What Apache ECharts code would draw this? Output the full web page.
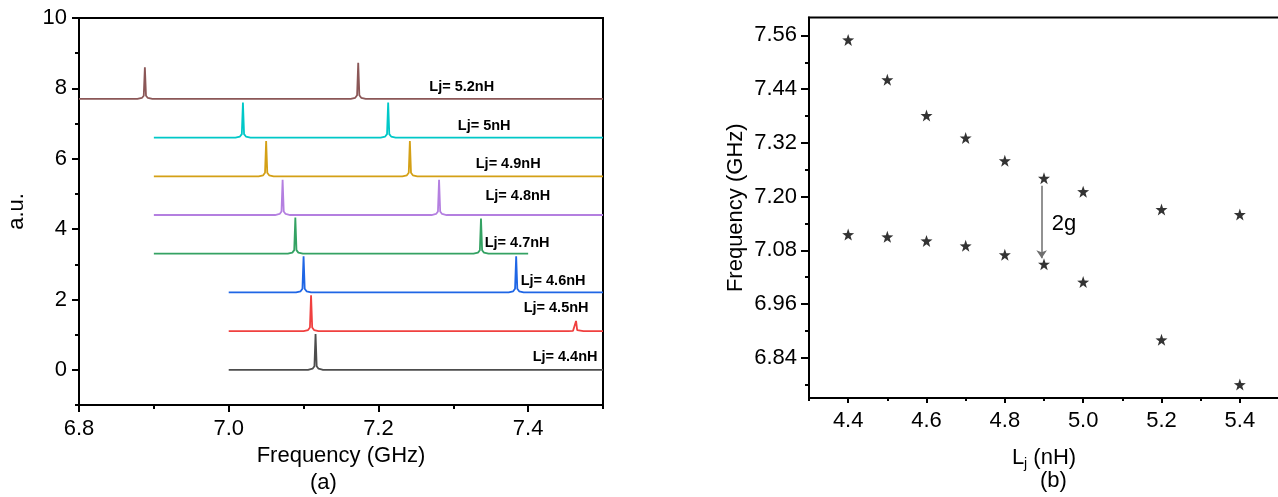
<!DOCTYPE html>
<html>
<head>
<meta charset="utf-8">
<title>Resonator spectra and anticrossing vs Lj</title>
<script src="https://cdn.jsdelivr.net/npm/echarts@6/dist/echarts.min.js"></script>
<style>
  html, body { margin: 0; padding: 0; background: #fff; }
  #chart { width: 1278px; height: 497px; }
</style>
</head>
<body>
<div id="chart"></div>
<script>
// ---- (a) transmission spectra, one trace per junction inductance ----
const traceNames   = ['Lj= 4.4nH', 'Lj= 4.5nH', 'Lj= 4.6nH', 'Lj= 4.7nH', 'Lj= 4.8nH', 'Lj= 4.9nH', 'Lj= 5nH', 'Lj= 5.2nH'];
const traceOffsets = [0, 1.1, 2.2, 3.3, 4.4, 5.5, 6.6, 7.7];
const traceStart   = [7.0, 7.0, 7.0, 6.9, 6.9, 6.9, 6.9, 6.8];
const traceEnd     = [7.5, 7.5, 7.5, 7.4, 7.5, 7.5, 7.5, 7.5];
const peakFreqs    = [[7.116], [7.110, 7.464], [7.100, 7.384], [7.089, 7.337], [7.072, 7.281], [7.050, 7.242], [7.019, 7.213], [6.888, 7.173]];
const peakHeights  = [[1.02], [1.02, 0.29], [1.03, 1.03], [1.03, 1.0], [1.0, 1.0], [1.0, 1.0], [1.0, 1.0], [0.9, 1.03]];
// sampled resonance line shape: [frequency offset (GHz), fraction of peak height]
const peakProfile  = [[-0.010, 0], [-0.004, 0.03], [-0.0015, 0.1], [0, 1], [0.0015, 0.1], [0.004, 0.03], [0.010, 0]];

const leftXMajor = [6.8, 7.0, 7.2, 7.4];
const leftXMinor = [6.9, 7.1, 7.3, 7.5];
const leftYMajor = [0, 2, 4, 6, 8, 10];
const leftYMinor = [-1, 1, 3, 5, 7, 9];

// ---- (b) mode frequencies vs Lj ----
const ljValues  = [4.4, 4.5, 4.6, 4.7, 4.8, 4.9, 5.0, 5.2, 5.4];
const upperFreq = [7.550, 7.461, 7.381, 7.331, 7.280, 7.241, 7.211, 7.171, 7.160];
const lowerFreq = [7.115, 7.110, 7.101, 7.090, 7.070, 7.049, 7.009, 6.880, 6.780];
const splitting = { lj: 4.894, from: 7.224, to: 7.062, text: '2g', textAt: [4.920, 7.138] };

const rightXMajor = [4.4, 4.6, 4.8, 5.0, 5.2, 5.4];
const rightXMinor = [4.3, 4.5, 4.7, 4.9, 5.1, 5.3];
const rightYMajor = [6.84, 6.96, 7.08, 7.20, 7.32, 7.44, 7.56];
const rightYMinor = [6.78, 6.90, 7.02, 7.14, 7.26, 7.38, 7.50];

// ---- styling ----
const traceColors = ['#4d4d4d', '#f0403f', '#1f66e5', '#34a263', '#b47fe0', '#d4a016', '#00c8c8', '#8b5757'];
const labelAnchors = [[7.406, 0.37], [7.394, 1.75], [7.390, 2.53], [7.342, 3.60], [7.343, 4.95], [7.330, 5.85], [7.306, 6.93], [7.268, 8.05]];
const FONT = '"Liberation Sans", Arial, sans-serif';
const TICK_FONT = 22;
const STAR = 'path://M0,-10 L2.35,-3.24 L9.51,-3.09 L3.8,1.24 L5.88,8.09 L0,4 L-5.88,8.09 L-3.8,1.24 L-9.51,-3.09 L-2.35,-3.24 Z';

function buildTrace(i) {
  const off = traceOffsets[i];
  const pts = [[traceStart[i], off]];
  peakFreqs[i].forEach((f, k) => {
    peakProfile.forEach(([df, frac]) => {
      const x = f + df;
      if (x > traceStart[i] && x < traceEnd[i]) pts.push([x, off + frac * peakHeights[i][k]]);
    });
  });
  pts.push([traceEnd[i], off]);
  return pts;
}

function axis(gridIndex, position, min, max, ticks, tickLen, labelled, extra) {
  return Object.assign({
    type: 'value', gridIndex, position, min, max,
    axisLine: { show: labelled, onZero: false, lineStyle: { color: '#000', width: 2 } },
    axisTick: { show: true, inside: false, length: tickLen, customValues: ticks, lineStyle: { color: '#000', width: 2 } },
    axisLabel: labelled
      ? { show: true, customValues: ticks, color: '#000', fontSize: TICK_FONT, fontFamily: FONT }
      : { show: false },
    splitLine: { show: false },
    minorTick: { show: false },
    silent: true
  }, extra || {});
}

const nameStyle = { color: '#000', fontSize: 22, fontFamily: FONT };
const tickLabel = (ticks, digits, margin) => ({
  show: true, customValues: ticks, formatter: v => v.toFixed(digits),
  color: '#000', fontSize: TICK_FONT, fontFamily: FONT, margin
});

const series = traceNames.map((name, i) => ({
  type: 'line',
  name,
  xAxisIndex: 0, yAxisIndex: 0,
  data: buildTrace(i),
  showSymbol: false,
  symbol: 'none',
  lineStyle: { color: traceColors[i], width: 1.8 },
  z: 3,
  markPoint: {
    symbol: 'circle', symbolSize: 0, silent: true, animation: false,
    data: [{ coord: labelAnchors[i], value: name }],
    label: { show: true, position: 'right', distance: 0, formatter: name, color: '#000', fontSize: 14.5, fontWeight: 'bold', fontFamily: FONT }
  }
}));

const starStyle = { color: '#000' };
series.push({
  type: 'scatter', name: 'upper', xAxisIndex: 2, yAxisIndex: 2,
  data: ljValues.map((v, i) => [v, upperFreq[i]]),
  symbol: STAR, symbolSize: 12, itemStyle: starStyle, z: 4,
  markLine: {
    silent: true, animation: false,
    symbol: ['none', 'arrow'], symbolSize: 8,
    lineStyle: { color: '#6e6e6e', width: 1.5, type: 'solid' },
    label: { show: false },
    data: [[{ coord: [splitting.lj, splitting.from] }, { coord: [splitting.lj, splitting.to] }]]
  },
  markPoint: {
    symbol: 'circle', symbolSize: 0, silent: true, animation: false,
    data: [{ coord: splitting.textAt, value: splitting.text }],
    label: { show: true, position: 'right', distance: 0, formatter: splitting.text, color: '#000', fontSize: 22, fontFamily: FONT }
  }
});
series.push({
  type: 'scatter', name: 'lower', xAxisIndex: 2, yAxisIndex: 2,
  data: ljValues.map((v, i) => [v, lowerFreq[i]]),
  symbol: STAR, symbolSize: 12, itemStyle: starStyle, z: 4
});

const option = {
  animation: false,
  backgroundColor: '#fff',
  textStyle: { fontFamily: FONT },
  title: [
    { text: '(a)', left: 310, top: 472, padding: 0, textStyle: { fontSize: 22, fontWeight: 'normal', color: '#000', fontFamily: FONT } },
    { text: '(b)', left: 1040, top: 470, padding: 0, textStyle: { fontSize: 22, fontWeight: 'normal', color: '#000', fontFamily: FONT } }
  ],
  grid: [
    { left: 79, top: 18, width: 524, height: 387, show: true, borderColor: '#000', borderWidth: 2, backgroundColor: 'transparent', containLabel: false, outerBoundsMode: 'none' },
    { left: 809, top: 17.5, width: 470, height: 380.5, show: true, borderColor: '#000', borderWidth: 2, backgroundColor: 'transparent', containLabel: false, outerBoundsMode: 'none' }
  ],
  xAxis: [
    axis(0, 'bottom', 6.8, 7.5, leftXMajor, 7, true, {
      axisLabel: tickLabel(leftXMajor, 1, 13),
      name: 'Frequency (GHz)', nameLocation: 'middle', nameGap: 37, nameTextStyle: nameStyle
    }),
    axis(0, 'bottom', 6.8, 7.5, leftXMinor, 4, false),
    axis(1, 'bottom', 4.3, 5.5, rightXMajor, 5, true, {
      axisLabel: tickLabel(rightXMajor, 1, 12),
      name: '{n|L}{s|j}{n| (nH)}', nameLocation: 'middle', nameGap: 47,
      nameTextStyle: {
        color: '#000', fontFamily: FONT,
        rich: {
          n: { fontSize: 22, color: '#000', fontFamily: FONT },
          s: { fontSize: 14, color: '#000', fontFamily: FONT, padding: [12, 0, 0, 0] }
        }
      }
    }),
    axis(1, 'bottom', 4.3, 5.5, rightXMinor, 3, false)
  ],
  yAxis: [
    axis(0, 'left', -1, 10, leftYMajor, 7, true, {
      axisLabel: tickLabel(leftYMajor, 0, 12),
      name: 'a.u.', nameLocation: 'middle', nameGap: 51, nameTextStyle: nameStyle
    }),
    axis(0, 'left', -1, 10, leftYMinor, 4, false),
    axis(1, 'left', 6.75, 7.60, rightYMajor, 8, true, {
      axisLabel: tickLabel(rightYMajor, 2, 12),
      name: 'Frequency (GHz)', nameLocation: 'middle', nameGap: 62, nameTextStyle: nameStyle
    }),
    axis(1, 'left', 6.75, 7.60, rightYMinor, 4, false)
  ],
  series
};

const chart = echarts.init(document.getElementById('chart'), null, { renderer: 'canvas' });
chart.setOption(option);
</script>
</body>
</html>
